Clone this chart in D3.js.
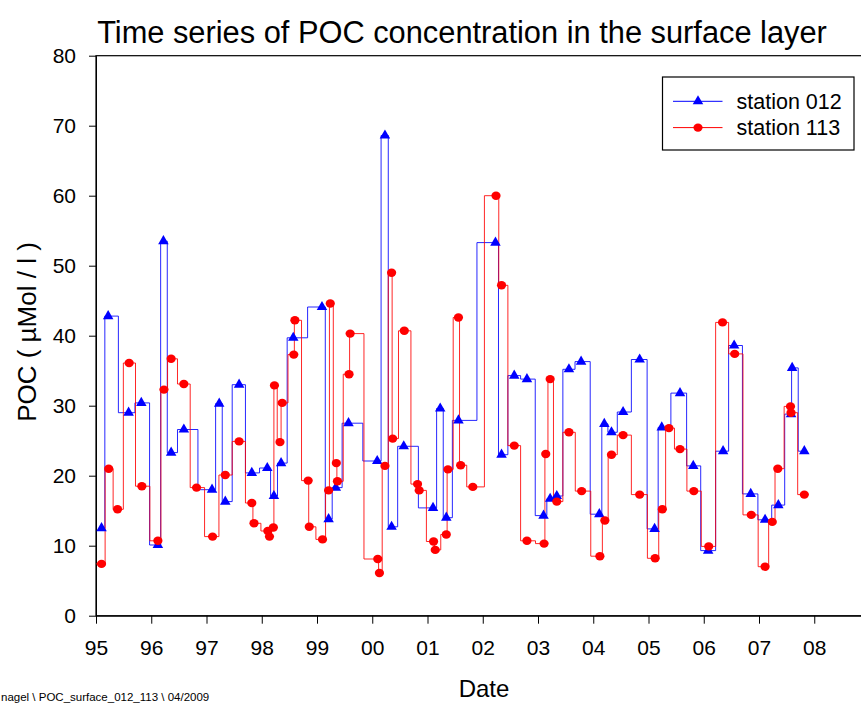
<!DOCTYPE html>
<html>
<head>
<script src="https://cdnjs.cloudflare.com/ajax/libs/d3/7.8.5/d3.min.js"></script>
<style>
    body { margin: 0; background: #fff; }
    svg { display: block; font-family: "Liberation Sans", Arial, sans-serif; }
    .axis path, .axis line { stroke: #000; }
    .axis text { fill: #000; font-size: 21px; }
</style>
</head>
<body>
<svg id="chart" width="861" height="704"></svg>
<script>
    // sampling dates as decimal years
    const datesSt012 = [
        1995.10, 1995.22, 1995.59, 1995.82, 1996.12, 1996.22, 1996.36, 1996.59,
        1997.10, 1997.23, 1997.34, 1997.59, 1997.82, 1998.10, 1998.22, 1998.35,
        1998.57, 1999.09, 1999.21, 1999.34, 1999.57, 2000.09, 2000.23, 2000.35,
        2000.57, 2001.10, 2001.23, 2001.34, 2001.56, 2002.23, 2002.34, 2002.57,
        2002.80, 2003.10, 2003.22, 2003.34, 2003.56, 2003.78, 2004.11, 2004.20,
        2004.33, 2004.54, 2004.84, 2005.11, 2005.24, 2005.57, 2005.81, 2006.08,
        2006.35, 2006.55, 2006.85, 2007.11, 2007.35, 2007.58, 2007.60, 2007.82
    ];
    const pocSt012 = [
        12.5, 42.8, 29.0, 30.4, 10.1, 53.5, 23.3, 26.6,
        18.0, 30.3, 16.3, 33.0, 20.4, 21.1, 17.1, 21.8,
        39.7, 44.1, 13.8, 18.3, 27.5, 22.1, 68.6, 12.7,
        24.2, 15.4, 29.6, 14.0, 27.9, 53.3, 23.0, 34.3,
        33.8, 14.3, 16.7, 17.1, 35.2, 36.3, 14.5, 27.4,
        26.2, 29.1, 36.6, 12.4, 26.9, 31.8, 21.4, 9.3,
        23.5, 38.6, 17.4, 13.7, 15.8, 28.8, 35.4, 23.5
    ];

    const datesSt113 = [
        1994.82, 1995.10, 1995.23, 1995.39, 1995.60, 1995.83, 1996.12, 1996.23,
        1996.36, 1996.59, 1996.82, 1997.11, 1997.34, 1997.59, 1997.82, 1997.86,
        1998.11, 1998.14, 1998.21, 1998.23, 1998.33, 1998.37, 1998.58, 1998.60,
        1998.84, 1998.86, 1999.10, 1999.21, 1999.24, 1999.35, 1999.37, 1999.58,
        1999.60, 2000.10, 2000.13, 2000.23, 2000.35, 2000.37, 2000.58, 2000.82,
        2000.85, 2001.11, 2001.14, 2001.34, 2001.37, 2001.56, 2001.60, 2001.82,
        2002.24, 2002.34, 2002.57, 2002.80, 2003.11, 2003.14, 2003.22, 2003.34,
        2003.56, 2003.79, 2004.12, 2004.21, 2004.33, 2004.54, 2004.84, 2005.12,
        2005.25, 2005.37, 2005.57, 2005.82, 2006.09, 2006.34, 2006.56, 2006.86,
        2007.11, 2007.24, 2007.34, 2007.57, 2007.58, 2007.82
    ];
    const pocSt113 = [
        15.8, 7.4, 21.0, 15.2, 36.1, 18.5, 10.7, 32.3,
        36.7, 33.1, 18.3, 11.3, 20.1, 24.9, 16.1, 13.2,
        12.1, 11.3, 12.6, 32.9, 24.8, 30.4, 37.3, 42.2,
        19.3, 12.7, 10.9, 17.9, 44.6, 21.8, 19.2, 34.5,
        40.3, 8.1, 6.1, 21.4, 49.0, 25.3, 40.7, 18.8,
        17.9, 10.6, 9.4, 11.6, 20.9, 42.6, 21.5, 18.4,
        60.0, 47.2, 24.3, 10.7, 10.3, 23.1, 33.8, 16.3,
        26.2, 17.8, 8.5, 13.6, 23.0, 25.8, 17.3, 8.2,
        15.2, 26.8, 23.8, 17.8, 9.9, 41.9, 37.4, 14.4,
        7.0, 13.4, 21.0, 29.9, 29.0, 17.3
    ];

    const yearTicks = [1995, 1996, 1997, 1998, 1999, 2000, 2001, 2002, 2003, 2004, 2005, 2006, 2007, 2008];
    const yearLabels = ["95", "96", "97", "98", "99", "00", "01", "02", "03", "04", "05", "06", "07", "08"];
    const pocTicks = [0, 10, 20, 30, 40, 50, 60, 70, 80];

    const series = [
        { name: "station 012", dates: datesSt012, values: pocSt012, color: "#0000ff", symbol: "triangle" },
        { name: "station 113", dates: datesSt113, values: pocSt113, color: "#ff0000", symbol: "circle" }
    ];

    const plotLeft = 96, plotTop = 55.7, plotBottom = 615.7, pxPerYear = 55.25;
    const plotRight = plotLeft + 14 * pxPerYear;

    const svg = d3.select("#chart");

    const x = d3.scaleLinear().domain([1995, 2009]).range([plotLeft, plotRight]);
    const y = d3.scaleLinear().domain([0, 80]).range([plotBottom, plotTop]);

    svg.append("clipPath").attr("id", "plot-clip")
        .append("rect")
        .attr("x", plotLeft).attr("y", plotTop)
        .attr("width", plotRight - plotLeft).attr("height", plotBottom - plotTop);

    // frame
    svg.append("rect")
        .attr("x", plotLeft).attr("y", plotTop)
        .attr("width", plotRight - plotLeft).attr("height", plotBottom - plotTop)
        .attr("fill", "none").attr("stroke", "#000").attr("stroke-width", 1.2);

    // axes
    svg.append("g")
        .attr("class", "axis")
        .attr("transform", `translate(0,${plotBottom})`)
        .call(d3.axisBottom(x)
            .tickValues(yearTicks)
            .tickFormat((d, i) => yearLabels[i])
            .tickSize(8).tickSizeOuter(0).tickPadding(16));

    svg.append("g")
        .attr("class", "axis")
        .attr("transform", `translate(${plotLeft},0)`)
        .call(d3.axisLeft(y)
            .tickValues(pocTicks)
            .tickSize(7).tickSizeOuter(0).tickPadding(13));

    // step lines (step centred between samples)
    const line = d3.line()
        .x(d => x(d[0]))
        .y(d => y(d[1]))
        .curve(d3.curveStep);

    const plot = svg.append("g").attr("clip-path", "url(#plot-clip)");

    series.forEach(s => {
        const pts = s.dates.map((d, i) => [d, s.values[i]]);
        plot.append("path")
            .datum(pts)
            .attr("fill", "none")
            .attr("stroke", s.color)
            .attr("stroke-width", 1)
            .attr("stroke-opacity", 0.85)
            .attr("d", line);
    });

    const triangle = d3.symbol().type(d3.symbolTriangle).size(48);

    series.forEach(s => {
        const pts = s.dates.map((d, i) => [d, s.values[i]]);
        if (s.symbol === "triangle") {
            plot.selectAll(null)
                .data(pts)
                .join("path")
                .attr("d", triangle)
                .attr("transform", d => `translate(${x(d[0])},${y(d[1])})`)
                .attr("fill", s.color);
        } else {
            plot.selectAll(null)
                .data(pts)
                .join("ellipse")
                .attr("cx", d => x(d[0]))
                .attr("cy", d => y(d[1]))
                .attr("rx", 4.6).attr("ry", 4.2)
                .attr("fill", s.color);
        }
    });

    // legend
    const legend = svg.append("g");
    legend.append("rect")
        .attr("x", 662.5).attr("y", 77)
        .attr("width", 191.5).attr("height", 73)
        .attr("fill", "#fff").attr("stroke", "#000").attr("stroke-width", 1.2);

    series.forEach((s, i) => {
        const ly = 101.3 + i * 26.3;
        legend.append("line")
            .attr("x1", 673).attr("x2", 722.5)
            .attr("y1", ly).attr("y2", ly)
            .attr("stroke", s.color).attr("stroke-width", 1);
        if (s.symbol === "triangle") {
            legend.append("path")
                .attr("d", triangle)
                .attr("transform", `translate(698,${ly})`)
                .attr("fill", s.color);
        } else {
            legend.append("ellipse")
                .attr("cx", 698).attr("cy", ly)
                .attr("rx", 4.6).attr("ry", 4.2)
                .attr("fill", s.color);
        }
        legend.append("text")
            .attr("x", 736.5).attr("y", ly)
            .attr("dy", "0.36em")
            .style("font-size", "21.5px")
            .text(s.name);
    });

    // titles
    svg.append("text")
        .attr("x", 462).attr("y", 43)
        .attr("text-anchor", "middle")
        .style("font-size", "30.8px")
        .text("Time series of POC concentration in the surface layer");

    svg.append("text")
        .attr("transform", "translate(36,332) rotate(-90)")
        .attr("text-anchor", "middle")
        .style("font-size", "26px")
        .text("POC  ( µMol / l )");

    svg.append("text")
        .attr("x", 484).attr("y", 697)
        .attr("text-anchor", "middle")
        .style("font-size", "24px")
        .text("Date");

    // file stamp in the lower left corner
    svg.append("text")
        .attr("x", 1).attr("y", 701)
        .style("font-size", "11.5px")
        .text("nagel \\ POC_surface_012_113 \\ 04/2009");
</script>
</body>
</html>
